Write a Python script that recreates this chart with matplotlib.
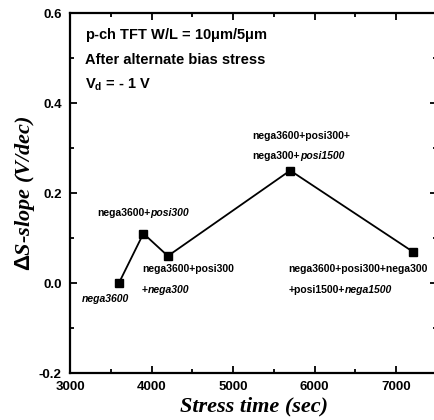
import matplotlib
matplotlib.use("Agg")
import matplotlib.pyplot as plt
from matplotlib.ticker import MultipleLocator

# stress time (sec) and change of subthreshold slope (V/dec)
stress_time = [3600, 3900, 4200, 5700, 7200]
delta_s = [0.0, 0.11, 0.06, 0.25, 0.07]

x_ticks = [3000, 4000, 5000, 6000, 7000]
y_ticks = [-0.2, 0.0, 0.2, 0.4, 0.6]

# each label: anchor (x, y), then lines made of (text, italic) pieces
labels = [
    ((3150, -0.035), [[("nega3600", True)]]),
    ((3330, 0.155), [[("nega3600+", False), ("posi300", True)]]),
    ((3880, 0.03), [[("nega3600+posi300", False)], [("+", False), ("nega300", True)]]),
    ((5240, 0.327), [[("nega3600+posi300+", False)], [("nega300+", False), ("posi1500", True)]]),
    ((5680, 0.03), [[("nega3600+posi300+nega300", False)], [("+posi1500+", False), ("nega1500", True)]]),
]

header = ["p-ch TFT W/L = 10$\\mu$m/5$\\mu$m",
          "After alternate bias stress",
          "V$_{\\rm d}$ = - 1 V"]

plt.rcParams['font.family'] = ['Liberation Sans', 'DejaVu Sans']
plt.rcParams['mathtext.fontset'] = 'custom'
plt.rcParams['mathtext.rm'] = 'Liberation Sans:bold'
plt.rcParams['mathtext.it'] = 'Liberation Sans:bold'

fig = plt.figure(figsize=(4.34, 4.2), dpi=100)
ax = fig.add_axes([70/434, 47/420, 367/434, 360/420])

ax.plot(stress_time, delta_s, "ks-", lw=1.3, ms=6)

ax.set_xlim(3000, 7500)
ax.set_ylim(-0.2, 0.6)
ax.set_xticks(x_ticks)
ax.set_yticks(y_ticks)
ax.set_yticklabels([f"{v:.1f}" for v in y_ticks])
ax.xaxis.set_minor_locator(MultipleLocator(500))
ax.yaxis.set_minor_locator(MultipleLocator(0.1))
ax.tick_params(which="both", direction="in", top=True, right=True, width=1.3)
ax.tick_params(which="major", length=5, labelsize=9.5, pad=6)
ax.tick_params(which="minor", length=3)
for lab in ax.get_xticklabels() + ax.get_yticklabels():
    lab.set_fontweight("bold")
for sp in ax.spines.values():
    sp.set_linewidth(1.6)

ax.set_xlabel("Stress time (sec)", fontfamily="Liberation Serif", fontsize=16,
              fontweight="bold", fontstyle="italic", labelpad=2)
ax.set_ylabel("$\\Delta$S-slope (V/dec)", fontfamily="Liberation Serif", fontsize=16,
              fontweight="bold", fontstyle="italic")
ax.yaxis.set_label_coords(-0.09, 0.5)

for i, line in enumerate(header):
    ax.text(0.04, 0.94 - i * 0.07, line, transform=ax.transAxes, fontsize=10.5,
            fontweight="bold", va="center")

# concatenate pieces of text so part of a line can be italic
for (x0, y0), lines in labels:
    for j, pieces in enumerate(lines):
        prev = None
        for txt, it in pieces:
            style = "italic" if it else "normal"
            if prev is None:
                prev = ax.text(x0, y0 - j * 0.045, txt, fontsize=7.5, fontweight="bold",
                               fontstyle=style, va="center", ha="left")
            else:
                prev = ax.annotate(txt, xy=(1, 0), xycoords=prev, fontsize=7.5,
                                   fontweight="bold", fontstyle=style, va="bottom", ha="left")

fig.savefig("out.png", dpi=100)
